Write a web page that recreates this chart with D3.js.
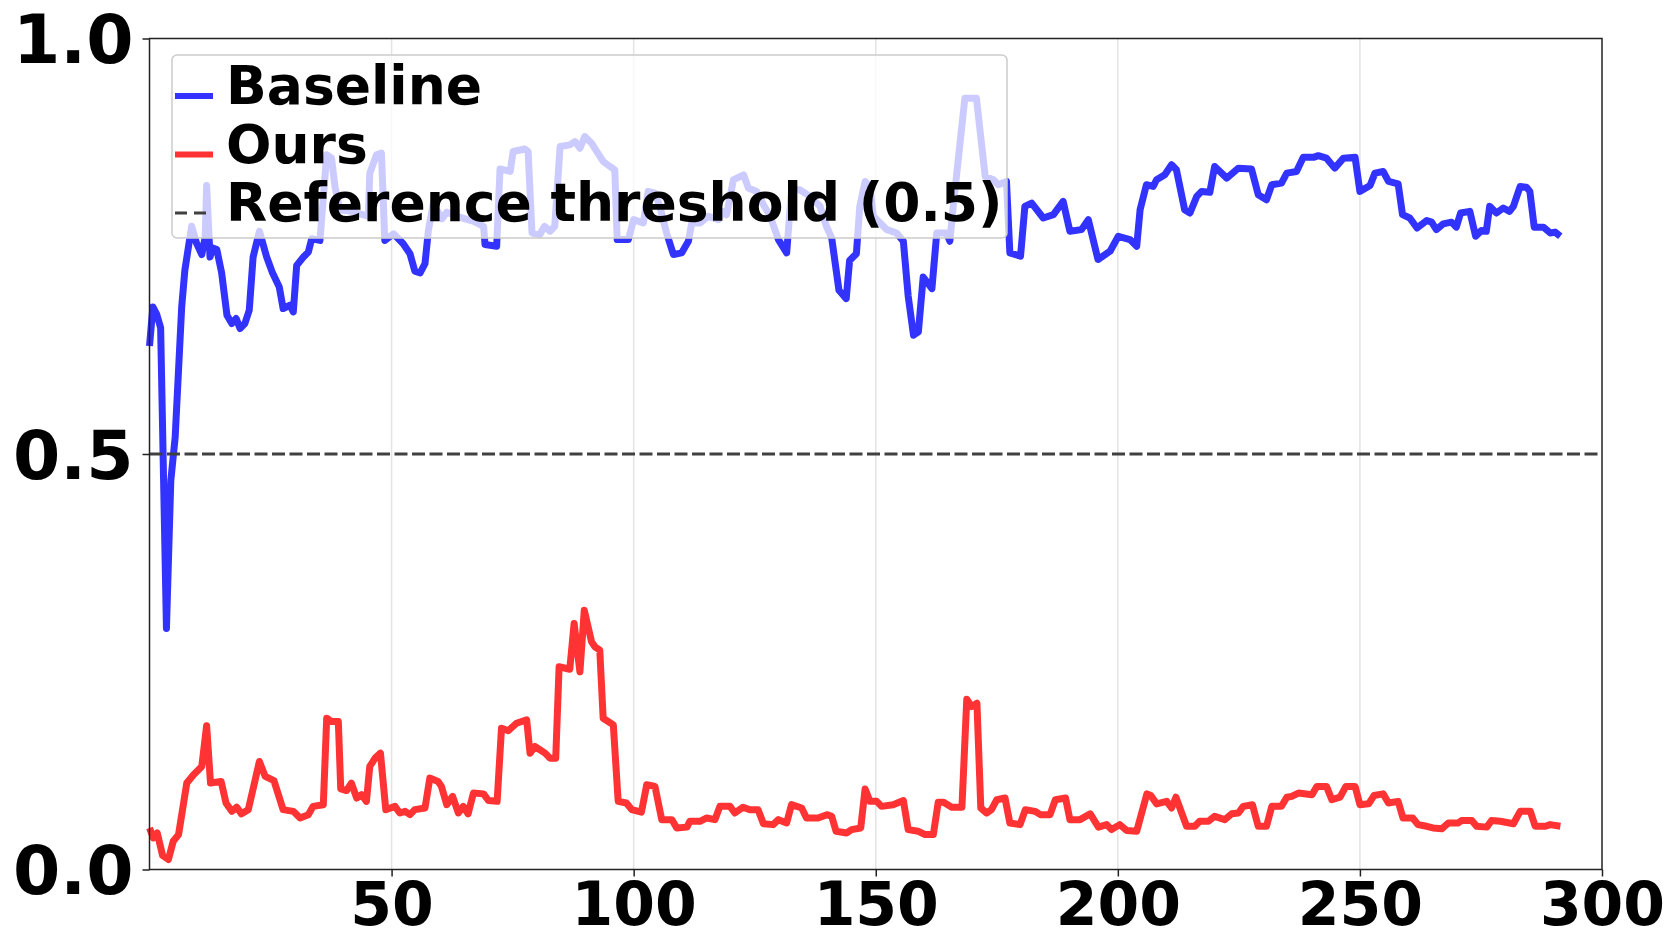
<!DOCTYPE html>
<html>
<head>
<meta charset="utf-8">
<script src="https://cdn.jsdelivr.net/npm/d3@7"></script>
<style>
  body { margin: 0; background: #fff; }
  svg { display: block; font-family: "DejaVu Sans", sans-serif; font-weight: bold; }
</style>
</head>
<body>
<div id="chart"></div>
<script>
// Baseline (blue) vertices
const baseX = [0, 0.7, 1.5, 2.3, 3.5, 4.4, 5.3, 6.65, 7.3, 8.7, 9.7, 10.8, 11.5, 11.8, 12.5, 13.05, 13.9, 14.9, 16, 17,
  17.9, 18.7, 19.7, 20.6, 21.4, 22.7, 24.2, 25.4, 26.8, 27.6, 29, 29.7, 30.4, 31.8, 32.8, 33.5, 35.2, 35.6, 36.6, 37.6,
  38.3, 39.3, 41.7, 44, 45.2, 45.5, 46.9, 47.9, 48.6, 50.4, 52.4, 53.8, 54.8, 55.9, 56.9, 57.6, 58.6, 60.4, 61.4, 64,
  67, 69, 69.3, 71.7, 72.4, 74.5, 75.1, 77.5, 78.2, 79, 80.6, 81.6, 82.7, 83.7, 84.8, 86.8, 87.9, 88.9, 89.9, 91.3,
  92.4, 93.7, 95.1, 96.1, 96.6, 98.9, 100, 102, 103, 104.4, 105.4, 106.8, 108.2, 109.9, 111.3, 112, 113.7, 115.4, 117.5, 118.5,
  119.2, 120.6, 122.7, 123.7, 125.4, 126.8, 128.2, 129.9, 131.6, 132.6, 134.3, 136.4, 138.5, 139.8, 140.9, 142.4, 143.9, 144.6, 146, 146.7,
  147.8, 148.8, 149.5, 152.3, 154.3, 155.7, 156.7, 157.8, 158.8, 159.8, 161.6, 162.6, 164.6, 165.3, 166, 168.4, 170.8, 172.6, 174.3, 175.3,
  177, 177.7, 179.9, 180.8, 182.2, 184.6, 186.7, 188.7, 190.1, 192.5, 193.9, 195.9, 198.4, 200.1, 202.5, 203.9, 204.6, 205.9, 207.3, 208,
  209.7, 211.1, 212.1, 213.8, 214.9, 216.3, 217.3, 219, 220, 222.5, 224.9, 227.6, 229, 230.7, 231.8, 233.8, 234.9, 236.9, 238.3, 240.4,
  241.4, 243.1, 244.8, 246.6, 249, 250, 252.1, 253.1, 254.8, 255.9, 257.9, 258.8, 260.3, 261.8, 263.8, 264.8, 265.8, 267.2, 268.9, 269.9,
  270.8, 272.7, 273.9, 275.1, 276.1, 276.8, 278.2, 279.6, 280.9, 281.7, 283.1, 284.4, 285.1, 286, 287.9, 289.3, 290.3, 291.4];
const baseY = [0.63, 0.677, 0.668, 0.652, 0.29, 0.468, 0.52, 0.677, 0.721, 0.774, 0.754, 0.74, 0.761, 0.823, 0.737, 0.748, 0.746, 0.718, 0.667, 0.657,
  0.663, 0.651, 0.657, 0.673, 0.737, 0.768, 0.737, 0.718, 0.701, 0.675, 0.679, 0.671, 0.727, 0.737, 0.743, 0.759, 0.757, 0.786, 0.86, 0.856,
  0.822, 0.794, 0.792, 0.788, 0.786, 0.838, 0.86, 0.862, 0.757, 0.765, 0.753, 0.741, 0.72, 0.718, 0.729, 0.769, 0.801, 0.783, 0.791, 0.785,
  0.78, 0.774, 0.752, 0.75, 0.843, 0.84, 0.864, 0.867, 0.864, 0.766, 0.764, 0.774, 0.768, 0.774, 0.87, 0.872, 0.876, 0.868, 0.882, 0.874,
  0.864, 0.852, 0.846, 0.842, 0.758, 0.758, 0.782, 0.778, 0.816, 0.814, 0.798, 0.766, 0.74, 0.742, 0.756, 0.778, 0.778, 0.786, 0.782, 0.792,
  0.788, 0.83, 0.836, 0.82, 0.816, 0.8, 0.786, 0.758, 0.742, 0.818, 0.818, 0.81, 0.798, 0.774, 0.76, 0.697, 0.687, 0.733, 0.741, 0.798,
  0.828, 0.822, 0.786, 0.77, 0.766, 0.756, 0.69, 0.643, 0.647, 0.713, 0.699, 0.766, 0.766, 0.756, 0.798, 0.928, 0.928, 0.834, 0.83, 0.824,
  0.828, 0.742, 0.738, 0.798, 0.802, 0.784, 0.788, 0.804, 0.768, 0.77, 0.782, 0.734, 0.744, 0.762, 0.758, 0.75, 0.794, 0.824, 0.822, 0.83,
  0.836, 0.848, 0.842, 0.794, 0.79, 0.81, 0.816, 0.815, 0.846, 0.832, 0.844, 0.843, 0.812, 0.806, 0.824, 0.826, 0.838, 0.84, 0.857, 0.857,
  0.859, 0.856, 0.844, 0.856, 0.857, 0.816, 0.823, 0.838, 0.84, 0.828, 0.825, 0.788, 0.784, 0.772, 0.781, 0.779, 0.77, 0.777, 0.779, 0.773,
  0.79, 0.792, 0.762, 0.769, 0.768, 0.798, 0.79, 0.796, 0.792, 0.798, 0.822, 0.821, 0.816, 0.773, 0.773, 0.766, 0.767, 0.762];

// Ours (red) vertices
const oursX = [0, 0.8, 1.6, 2.7, 3.9, 4.9, 6, 7.7, 9.1, 10.8, 11.8, 12.6, 14.8, 15.8, 17, 18, 19, 20.4, 22.7, 23.9,
  25.7, 27.6, 29.7, 31.1, 32.8, 33.8, 35.9, 36.6, 37.6, 39, 39.5, 40.7, 41.7, 42.8, 43.8, 44.8, 45.5, 46.6, 47.7, 48.8,
  50.7, 51.7, 52.8, 53.8, 54.8, 56.9, 57.9, 59.6, 60.3, 61.4, 62.6, 63.8, 64.8, 65.8, 66.9, 69, 70, 71.8, 72.7, 74.1,
  75.8, 77.9, 78.6, 79.6, 81.7, 82.7, 83.9, 84.6, 86.8, 87.7, 88.9, 89.8, 91.3, 92, 93, 93.7, 95.8, 96.8, 98.5, 99.6,
  101.6, 102.7, 104.4, 105.8, 107.9, 108.9, 111, 111.6, 113.7, 115.1, 116.8, 117.8, 119.9, 120.9, 122.6, 124, 125.7, 126.8, 128.8, 129.9,
  131.6, 132.6, 134.7, 135.7, 138.1, 139.9, 140.9, 141.8, 144, 145, 146.9, 147.8, 148.8, 150.2, 151.2, 153.6, 155.7, 156.7, 158.8, 160.2,
  161.9, 162.9, 164, 165.7, 167.8, 168.8, 169.8, 170.9, 171.7, 172.9, 173.9, 175, 176.7, 177.7, 179.8, 180.9, 182.9, 184, 186, 187.1,
  189.2, 190.1, 192.2, 194.3, 196, 197.7, 198.7, 200.4, 201.8, 203.9, 206, 206.8, 208, 210.1, 211.1, 212, 214.2, 215.9, 216.9, 218.7,
  220, 222.1, 223.5, 224.9, 225.9, 227.8, 229, 230.7, 231.8, 233.8, 234.9, 235.9, 237.3, 240.1, 241.1, 243.1, 244.2, 245.9, 247.1, 249,
  250, 251.8, 252.9, 254.8, 255.9, 257.9, 258.9, 260.9, 262, 263.8, 265.1, 266.9, 268.3, 270.3, 271, 273.1, 274.1, 276.2, 277.2, 279,
  281.7, 283.1, 285.2, 286.2, 288.3, 289.3, 291.4];
const oursY = [0.05, 0.038, 0.044, 0.017, 0.012, 0.034, 0.042, 0.104, 0.114, 0.124, 0.173, 0.104, 0.106, 0.08, 0.07, 0.075, 0.067, 0.072, 0.13, 0.112,
  0.107, 0.072, 0.07, 0.062, 0.066, 0.076, 0.078, 0.182, 0.178, 0.178, 0.097, 0.095, 0.104, 0.086, 0.09, 0.082, 0.124, 0.134, 0.14, 0.072,
  0.076, 0.068, 0.07, 0.066, 0.072, 0.074, 0.11, 0.106, 0.1, 0.078, 0.088, 0.068, 0.076, 0.067, 0.092, 0.091, 0.083, 0.082, 0.17, 0.167,
  0.176, 0.18, 0.14, 0.148, 0.14, 0.134, 0.134, 0.244, 0.241, 0.296, 0.238, 0.312, 0.274, 0.268, 0.264, 0.182, 0.174, 0.082, 0.08, 0.072,
  0.069, 0.102, 0.1, 0.06, 0.06, 0.05, 0.051, 0.058, 0.058, 0.062, 0.06, 0.076, 0.076, 0.068, 0.075, 0.072, 0.072, 0.055, 0.054, 0.06,
  0.056, 0.078, 0.074, 0.062, 0.062, 0.066, 0.064, 0.046, 0.044, 0.048, 0.05, 0.097, 0.082, 0.082, 0.076, 0.078, 0.083, 0.048, 0.046, 0.042,
  0.042, 0.081, 0.081, 0.075, 0.075, 0.205, 0.196, 0.2, 0.074, 0.068, 0.072, 0.084, 0.086, 0.056, 0.054, 0.072, 0.07, 0.066, 0.066, 0.084,
  0.086, 0.06, 0.06, 0.067, 0.051, 0.054, 0.048, 0.054, 0.047, 0.046, 0.091, 0.089, 0.079, 0.082, 0.074, 0.087, 0.052, 0.052, 0.058, 0.058,
  0.064, 0.06, 0.067, 0.068, 0.076, 0.078, 0.052, 0.052, 0.076, 0.076, 0.087, 0.088, 0.092, 0.09, 0.1, 0.1, 0.084, 0.087, 0.1, 0.1,
  0.078, 0.079, 0.089, 0.091, 0.08, 0.082, 0.062, 0.062, 0.054, 0.052, 0.05, 0.049, 0.056, 0.056, 0.059, 0.059, 0.052, 0.051, 0.059, 0.058,
  0.055, 0.07, 0.07, 0.052, 0.052, 0.054, 0.052];

const threshold = 0.5;
const xTicks = [50, 100, 150, 200, 250, 300];
const yTicks = [0, 0.5, 1.0];
const legendLabels = ['Baseline', 'Ours', 'Reference threshold (0.5)'];

const W = 1674, H = 951;
const blue = 'rgb(51,51,255)', red = 'rgb(255,51,51)';

const x = d3.scaleLinear().domain([0, 300]).range([149.5, 1602]);
const y = d3.scaleLinear().domain([0, 1]).range([869.5, 38.5]);

const svg = d3.select('#chart').append('svg')
  .attr('width', W).attr('height', H)
  .attr('viewBox', `0 0 ${W} ${H}`);

// vertical grid
svg.append('g')
  .selectAll('line')
  .data(xTicks.filter(d => d < 300))
  .join('line')
  .attr('x1', d => x(d)).attr('x2', d => x(d))
  .attr('y1', y(1)).attr('y2', y(0))
  .attr('stroke', '#e3e3e3')
  .attr('stroke-width', 1.5);

const line = d3.line().x(d => x(d[0])).y(d => y(d[1]));

const series = [
  { pts: d3.zip(baseX, baseY), color: blue },
  { pts: d3.zip(oursX, oursY), color: red },
];

svg.append('g')
  .selectAll('path')
  .data(series)
  .join('path')
  .attr('d', d => line(d.pts))
  .attr('fill', 'none')
  .attr('stroke', d => d.color)
  .attr('stroke-width', 7)
  .attr('stroke-linejoin', 'round');

// threshold
svg.append('line')
  .attr('x1', x.range()[0]).attr('x2', x.range()[1])
  .attr('y1', y(threshold)).attr('y2', y(threshold))
  .attr('stroke', '#404040')
  .attr('stroke-width', 3)
  .attr('stroke-dasharray', '13,4.5');

// legend
const lg = svg.append('g');
lg.append('rect')
  .attr('x', 172).attr('y', 55)
  .attr('width', 835).attr('height', 183)
  .attr('rx', 5)
  .attr('fill', 'white').attr('fill-opacity', 0.75)
  .attr('stroke', '#cccccc').attr('stroke-width', 1.5);

const rows = lg.selectAll('g.row')
  .data(legendLabels)
  .join('g')
  .attr('class', 'row')
  .attr('transform', (d, i) => `translate(0, ${104 + i * 58.5})`);

rows.append('line')
  .attr('x1', 175).attr('x2', 213)
  .attr('y1', -8).attr('y2', -8)
  .attr('stroke', (d, i) => [blue, red, '#404040'][i])
  .attr('stroke-width', (d, i) => i < 2 ? 6 : 3)
  .attr('stroke-dasharray', (d, i) => i < 2 ? null : '12,7');

rows.append('text')
  .attr('x', 226)
  .attr('y', 0)
  .attr('font-size', 53.5)
  .attr('fill', 'black')
  .text(d => d);

// axes
const xAxis = svg.append('g')
  .attr('transform', `translate(0, ${y(0)})`)
  .call(d3.axisBottom(x).tickValues(xTicks).tickSize(7).tickPadding(6).tickFormat(d3.format('d')));
xAxis.selectAll('text').attr('font-size', 60).attr('fill', 'black');

const yAxis = svg.append('g')
  .attr('transform', `translate(${x.range()[0]}, 0)`)
  .call(d3.axisLeft(y).tickValues(yTicks).tickSize(7).tickPadding(9).tickFormat(d3.format('.1f')));
yAxis.selectAll('text').attr('font-size', 68).attr('dy', '0.36em').attr('fill', 'black');

svg.selectAll('.domain').remove();
svg.selectAll('.tick line').attr('stroke', '#222').attr('stroke-width', 1.5);
svg.selectAll('.tick text').attr('font-family', '"DejaVu Sans", sans-serif').attr('font-weight', 'bold');

// frame
svg.append('rect')
  .attr('x', x.range()[0]).attr('y', y(1))
  .attr('width', x.range()[1] - x.range()[0])
  .attr('height', y(0) - y(1))
  .attr('fill', 'none')
  .attr('stroke', '#222')
  .attr('stroke-width', 1.5);
</script>
</body>
</html>
